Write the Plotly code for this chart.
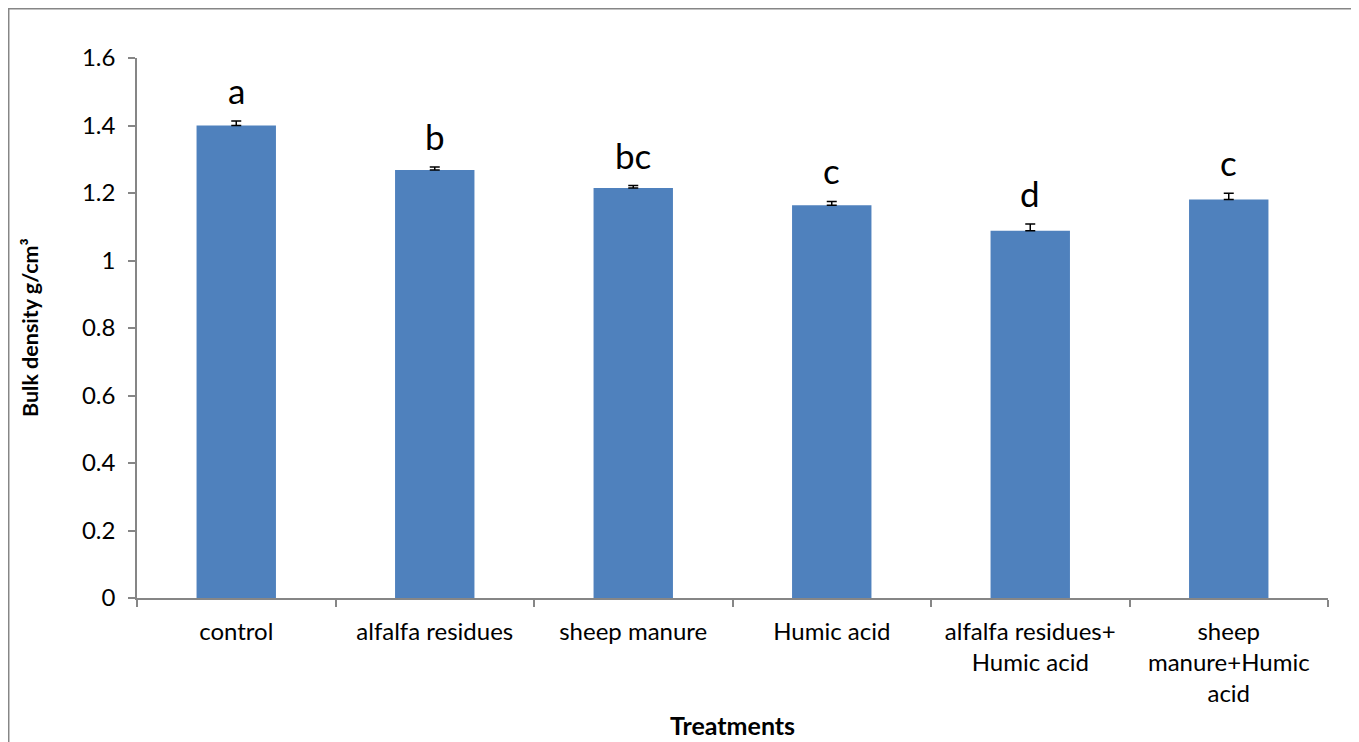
import plotly.graph_objects as go

categories = ["control", "alfalfa residues", "sheep manure", "Humic acid",
              "alfalfa residues+<br>Humic acid", "sheep<br>manure+Humic<br>acid"]
values = [1.40, 1.268, 1.215, 1.164, 1.088, 1.181]
errors = [0.013, 0.009, 0.007, 0.011, 0.020, 0.018]
letters = ["a", "b", "bc", "c", "d", "c"]
y_ticks = [0, 0.2, 0.4, 0.6, 0.8, 1, 1.2, 1.4, 1.6]

FONT = "Lato, 'Open Sans', sans-serif"
AX = "#868686"

fig = go.Figure()
fig.add_trace(go.Bar(
    x=categories, y=values, width=0.4,
    marker=dict(color="#4F81BD", line=dict(width=0)),
    error_y=dict(type="data", array=errors, visible=True, color="black",
                 thickness=1.5, width=5, symmetric=False, arrayminus=[0]*6),
))

for c, v, e, l in zip(categories, values, errors, letters):
    fig.add_annotation(x=c, y=v + e, text=l, showarrow=False, yanchor="bottom",
                       yshift=8, font=dict(family=FONT, size=35, color="black"))

fig.add_annotation(xref="paper", yref="paper", x=-0.0898, y=0.5, xanchor="center", yanchor="middle",
                   text="<b>Bulk density g/cm³</b>",
                   textangle=-90, showarrow=False, font=dict(family=FONT, size=21.5, color="black"))
fig.add_annotation(xref="paper", yref="paper", x=0.5, y=-0.235, xanchor="center", yanchor="middle",
                   text="<b>Treatments</b>",
                   showarrow=False, font=dict(family=FONT, size=25, color="black"))

fig.add_shape(type="rect", xref="paper", yref="paper", x0=-0.1077, x1=1.0202, y0=-0.3, y1=1.0912,
              line=dict(color="#868686", width=1.5), fillcolor="rgba(0,0,0,0)", layer="below")

fig.update_layout(
    width=1351, height=734,
    margin=dict(l=129, r=31, t=50, b=144),
    paper_bgcolor="white", plot_bgcolor="white",
    showlegend=False,
    font=dict(family=FONT, size=24, color="black"),
    xaxis=dict(showline=True, linecolor=AX, linewidth=1.5, ticks="outside",
               tickson="boundaries", ticklen=7, tickcolor=AX, tickwidth=1.5,
               ticklabelstandoff=11, tickfont=dict(size=24), showgrid=False),
    yaxis=dict(range=[0, 1.6], tickvals=y_ticks, ticktext=[str(t) for t in y_ticks],
               showline=True, linecolor=AX, linewidth=1.5, ticks="outside", ticklen=7,
               tickcolor=AX, tickwidth=1.5, showgrid=False, zeroline=False,
               ticklabelstandoff=8, tickfont=dict(size=24)),
)

fig.write_html("out.html")
